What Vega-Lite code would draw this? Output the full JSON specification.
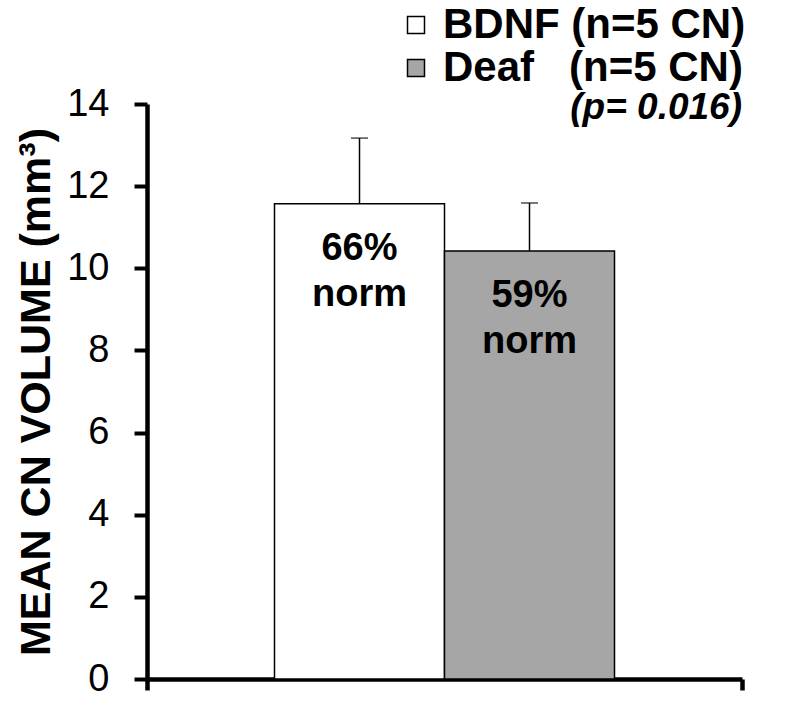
{
  "$schema": "https://vega.github.io/schema/vega-lite/v6.json",
  "width": 595,
  "height": 575,
  "autosize": {"type": "none"},
  "padding": {"left": 147, "top": 104, "right": 52, "bottom": 22},
  "background": "white",
  "title": {"text": "(p= 0.016)", "anchor": "end", "orient": "top", "frame": "group", "fontSize": 37, "fontWeight": "bold", "fontStyle": "italic", "font": "Liberation Sans", "color": "black", "baseline": "alphabetic", "offset": -152},
  "data": {"values": [
    {"cat": "all", "group": "BDNF", "value": 11.57, "upper": 13.17, "label": "66%\nnorm"},
    {"cat": "all", "group": "Deaf", "value": 10.42, "upper": 11.59, "label": "59%\nnorm"}
  ]},
  "resolve": {"axis": {"x": "independent"}},
  "config": {
    "view": {"stroke": null}
  },
  "layer": [
    {
      "mark": {"type": "bar", "stroke": "black", "strokeWidth": 1.5},
      "encoding": {
        "x": {"field": "cat", "type": "nominal", "scale": {"paddingInner": 0, "paddingOuter": 0}, "axis": {"orient": "bottom", "labels": false, "title": null, "domain": true, "domainColor": "black", "domainWidth": 4.5, "ticks": true, "tickSize": 11, "tickWidth": 4.5, "tickColor": "black", "bandPosition": 0}},
        "xOffset": {"field": "group", "type": "nominal", "scale": {"domain": ["BDNF", "Deaf"], "paddingInner": 0, "paddingOuter": 0.75}},
        "y": {"field": "value", "type": "quantitative", "scale": {"domain": [0, 14], "nice": false}, "title": "MEAN CN VOLUME (mm³)",
          "axis": {"domain": true, "domainColor": "black", "domainWidth": 4.5, "ticks": true, "tickSize": 13, "tickWidth": 4, "tickColor": "black", "values": [0, 2, 4, 6, 8, 10, 12, 14], "labelFontSize": 38, "labelFont": "Liberation Sans", "labelColor": "black", "labelPadding": 25, "titleFontSize": 43, "titleFont": "Liberation Sans", "titleFontWeight": "bold", "titleColor": "black", "titlePadding": 8, "grid": false}},
        "fill": {"field": "group", "type": "nominal", "scale": {"domain": ["BDNF", "Deaf"], "range": ["white", "#a6a6a6"]},
          "legend": {"orient": "none", "legendX": 248, "legendY": -100, "title": null, "symbolType": "square", "symbolSize": 289, "symbolStrokeColor": "black", "symbolStrokeWidth": 1.5, "labelFontSize": 42, "labelFont": "Liberation Sans", "labelFontWeight": "bold", "labelColor": "black", "labelOffset": 6, "rowPadding": 1, "padding": 0, "labelLimit": 500,
            "labelExpr": "datum.label == 'BDNF' ? 'BDNF (n=5 CN)' : 'Deaf\u00a0\u00a0\u00a0(n=5 CN)'"}}
      }
    },
    {
      "mark": {"type": "rule", "color": "black", "strokeWidth": 1.5},
      "encoding": {
        "x": {"field": "cat", "type": "nominal", "axis": {"orient": "bottom", "labels": false, "title": null, "domain": false, "ticks": true, "tickSize": 11, "tickWidth": 4.5, "tickColor": "black", "bandPosition": 1}},
        "xOffset": {"field": "group", "type": "nominal"},
        "y": {"field": "value", "type": "quantitative", "title": "MEAN CN VOLUME (mm³)"},
        "y2": {"field": "upper"}
      }
    },
    {
      "mark": {"type": "tick", "color": "black", "size": 17, "thickness": 1.5, "orient": "horizontal"},
      "encoding": {
        "x": {"field": "cat", "type": "nominal", "axis": null},
        "xOffset": {"field": "group", "type": "nominal"},
        "y": {"field": "upper", "type": "quantitative", "title": "MEAN CN VOLUME (mm³)"}
      }
    },
    {
      "mark": {"type": "text", "lineBreak": "\n", "baseline": "top", "dy": 26, "fontSize": 38, "fontWeight": "bold", "font": "Liberation Sans", "color": "black", "lineHeight": 46},
      "encoding": {
        "x": {"field": "cat", "type": "nominal", "axis": null},
        "xOffset": {"field": "group", "type": "nominal"},
        "y": {"field": "value", "type": "quantitative", "title": "MEAN CN VOLUME (mm³)"},
        "text": {"field": "label"}
      }
    }
  ]
}
